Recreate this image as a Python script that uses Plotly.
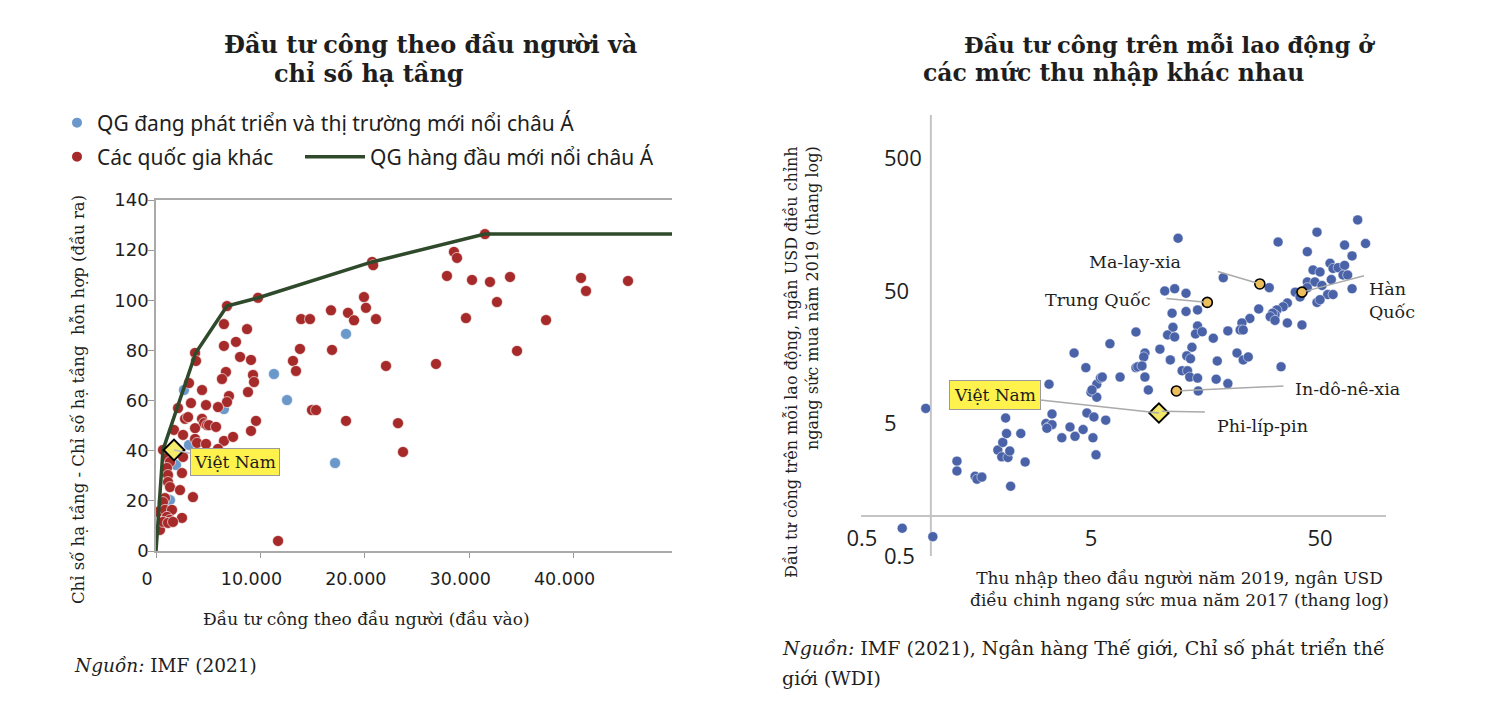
import math
import plotly.graph_objects as go

# The page body adds an 8px margin, so the figure is made 8px smaller and
# every layout position below is given in window pixels minus that offset.
OFF = 8
W, H = 1500 - OFF, 714 - OFF


def px(x):
    return (x - OFF) / W


def py(y):
    return 1 - (y - OFF) / H


# ---------------- Left chart data ----------------
blue_x = [18200, 11300, 12550, 2680, 6510, 3160, 1920, 17150, 1340, 960]
blue_y = [86.6, 70.6, 60.2, 64.2, 56.6, 42.3, 34.3, 35.1, 20.3, 15.2]

red_x = [20700, 20800, 9770, 6800, 6510, 8720, 6510, 7660, 8050, 9100,
         3740, 3830, 6700, 6320, 9290, 9390, 8810, 6990, 6800, 3160,
         4410, 3350, 4790, 2110, 5940, 2780, 3070, 4410, 4600, 4890,
         5080, 5750, 3740, 9580, 9100, 1720, 2590, 3740, 3930, 4790,
         6510, 7380, 5940, 670, 1050, 1340, 2590, 2490, 1050, 1150,
         1150, 1340, 2300, 3540, 860, 670, 190, 860, 1530, 1050,
         1340, 2490, 380, 670, 1150, 1630, 11690, 13900, 14750, 16760,
         18390, 18970, 19920, 20110, 21070, 13790, 16860, 13120, 13410, 22030,
         26820, 27870, 28540, 28830, 31510, 30270, 31990, 33910, 32660, 29690,
         34580, 37360, 40710, 41190, 45210, 14940, 15330, 18200, 23180, 23660]
red_y = [115.3, 114.0, 101.0, 97.7, 90.5, 88.5, 81.8, 83.4, 77.4, 76.2,
         79.0, 75.8, 71.4, 68.6, 70.2, 67.4, 63.4, 61.8, 59.4, 67.0,
         64.2, 59.0, 58.2, 57.0, 57.4, 52.7, 53.4, 52.7, 51.0, 50.2,
         50.2, 49.5, 49.0, 51.9, 47.9, 48.3, 46.3, 44.7, 43.1, 42.7,
         43.9, 45.5, 40.7, 40.3, 37.1, 35.5, 37.5, 31.1, 33.1, 30.3,
         27.5, 25.5, 24.3, 21.5, 21.1, 19.5, 15.6, 16.4, 16.4, 13.6,
         12.4, 13.2, 8.4, 11.6, 11.2, 11.6, 4.0, 92.5, 92.5, 96.0,
         95.0, 92.0, 101.3, 97.0, 92.5, 80.6, 80.2, 75.8, 71.8, 73.8,
         74.6, 109.7, 119.3, 116.9, 126.4, 108.1, 107.3, 109.3, 99.3, 92.9,
         79.8, 92.1, 108.9, 103.7, 107.7, 56.2, 56.2, 51.9, 51.0, 39.5]

frontier_x = [0, 670, 3800, 6800, 9800, 20700, 31500, 49500]
frontier_y = [0, 40.3, 79.0, 97.7, 101.0, 115.3, 126.4, 126.4]

vn_left_x = [1724]
vn_left_y = [40.3]

left_xticks = [0, 10000, 20000, 30000, 40000]
left_xticktext = ["0", "10.000", "20.000", "30.000", "40.000"]
left_yticks = [0, 20, 40, 60, 80, 100, 120, 140]

# ---------------- Right chart data ----------------
inc = [0.75, 1.02, 0.95, 1.30, 1.30, 1.56, 1.59, 1.67, 2.23, 1.96,
       2.04, 2.17, 2.21, 2.06, 2.14, 2.12, 2.47, 2.58, 3.18, 3.25,
       3.38, 3.21, 3.38, 3.28, 3.73, 4.05, 4.26, 4.62, 4.8, 5.1,
       5.15, 5.26, 5.8, 4.22, 4.75, 5.0, 5.3, 5.3, 5.5, 6.05,
       6.7, 7.86, 7.86, 8.0, 12, 32.8, 48.5, 73, 44, 64,
       79, 69, 10.5, 11.6, 13, 18.9, 30, 46.6, 50, 55.3,
       57, 60, 64, 56, 63, 66, 44, 47.5, 44, 39,
       51, 54, 57, 69, 48.5, 50, 36, 34.5, 32.4, 31.8,
       31, 30.3, 31.8, 27, 36, 41.7, 24.7, 22.8, 22.4, 23.1,
       19.8, 17.1, 11.3, 13, 14.6, 11.4, 10.8, 11.6, 14.6, 14.3,
       15.3, 10, 8.6, 8.5, 13.8, 13.1, 13.6, 11.1, 17.8, 21.7,
       23.1, 24.3, 33.8, 8.35, 8.6, 12.5, 13.2, 13.5, 14.6, 17.6,
       19.8, 8.9, 14.7, 5.6, 5.05, 40.9]
inv = [0.81, 0.70, 6.5, 2.6, 2.19, 2.0, 1.9, 1.97, 1.68, 3.15,
       2.8, 2.77, 3.1, 3.6, 4.2, 5.5, 4.2, 2.56, 5.0, 4.7,
       4.9, 4.6, 5.9, 9.9, 3.9, 4.7, 4.0, 4.5, 6.0, 3.9,
       5.6, 2.9, 5.3, 17, 13.2, 8.6, 7.9, 9.9, 11, 20,
       11.2, 24.5, 13.2, 13.4, 125, 117, 139, 172, 99, 111,
       114, 92, 50, 52, 48, 63, 53, 72, 69.6, 80.9,
       74, 75, 78, 61, 66, 66, 58.5, 58.5, 53, 49,
       55, 47, 47, 52, 41, 43, 40.6, 38, 36, 33,
       34, 32, 30, 36.6, 28.7, 27.7, 31, 28.7, 25.4, 25.4,
       25, 22, 34, 35, 36, 26.6, 23.3, 22.5, 27.2, 23.7,
       24.6, 18.2, 17, 15.9, 18.8, 16.2, 15.4, 15.1, 14.8, 17,
       15.1, 15.9, 13.4, 13.6, 11.2, 12.5, 12.5, 11.2, 11, 10.8,
       10, 8.95, 8.8, 11.2, 8.95, 45]

hl_names = ["Ma-lay-xia", "Trung Quốc", "Hàn Quốc", "In-dô-nê-xia", "Phi-líp-pin"]
hl_inc = [27.3, 16.1, 41.7, 11.8, 9.8]
hl_inv = [56.5, 41.0, 49.0, 8.8, 6.2]

vn_right_x = [9.9]
vn_right_y = [6.0]

log_ticks = [0.5, 5, 50, 500]
log_ticktext = ["0.5", "5", "50", "500"]

# ---------------- Styles ----------------
TXT = "#1e1e1e"
SERIF = "DejaVu Serif"
SANS = "DejaVu Sans"
RED = "#A62A2A"
BLUE = "#6A98CA"
GREEN = "#2F4A2A"
NAVY = "#4A63A8"

fig = go.Figure()

# Left chart traces
fig.add_trace(go.Scatter(
    x=blue_x, y=blue_y, mode="markers", name="QG đang phát triển và thị trường mới nổi châu Á",
    marker=dict(color=BLUE, size=11, line=dict(color="white", width=0.6)),
    xaxis="x", yaxis="y", legend="legend"))
fig.add_trace(go.Scatter(
    x=red_x, y=red_y, mode="markers", name="Các quốc gia khác",
    marker=dict(color=RED, size=11, line=dict(color="white", width=0.6)),
    xaxis="x", yaxis="y", legend="legend2"))
fig.add_trace(go.Scatter(
    x=frontier_x, y=frontier_y, mode="lines", name="QG hàng đầu mới nổi châu Á",
    line=dict(color=GREEN, width=3.5), xaxis="x", yaxis="y", legend="legend3"))
fig.add_trace(go.Scatter(
    x=vn_left_x, y=vn_left_y, mode="markers", name="Việt Nam", showlegend=False,
    marker=dict(symbol="diamond", color="#F3EB6C", size=16, line=dict(color="black", width=2)),
    xaxis="x", yaxis="y"))

# Right chart traces
fig.add_trace(go.Scatter(
    x=inc, y=inv, mode="markers", showlegend=False, name="Quốc gia",
    marker=dict(color=NAVY, size=10, line=dict(color="white", width=0.5)),
    xaxis="x2", yaxis="y2"))
fig.add_trace(go.Scatter(
    x=hl_inc, y=hl_inv, mode="markers", showlegend=False, text=hl_names,
    marker=dict(color="#EDBF5C", size=10, line=dict(color="black", width=1.6)),
    xaxis="x2", yaxis="y2"))
fig.add_trace(go.Scatter(
    x=vn_right_x, y=vn_right_y, mode="markers", showlegend=False, name="Việt Nam",
    marker=dict(symbol="diamond", color="#F2E66A", size=15, line=dict(color="black", width=1.8)),
    xaxis="x2", yaxis="y2"))

ann = []


def text(x, y, s, size, family=SERIF, xanchor="left", yanchor="middle", **kw):
    ann.append(dict(x=px(x), y=py(y), xref="paper", yref="paper", text=s, showarrow=False,
                    xanchor=xanchor, yanchor=yanchor,
                    font=dict(family=family, size=size, color=TXT), **kw))


# Titles
text(222, 45, "<b>Đầu tư công theo đầu người và</b>", 24)
text(272, 73, "<b>chỉ số hạ tầng</b>", 24)
text(962, 45, "<b>Đầu tư công trên mỗi lao động ở</b>", 22.5)
text(921, 73, "<b>các mức thu nhập khác nhau</b>", 23.5)

# Left axis titles and source
text(78, 400, "Chỉ số hạ tầng - Chỉ số hạ tầng  hỗn hợp (đầu ra)", 16.5, xanchor="center", textangle=-90)
text(366, 619, "Đầu tư công theo đầu người (đầu vào)", 17, xanchor="center")
text(72, 665, "<i>Nguồn:</i> IMF (2021)", 18.5)

# Right axis titles and source
text(802, 362, "Đầu tư công trên mỗi lao động, ngân USD điều chỉnh<br>ngang sức mua năm 2019 (thang log)",
     16, xanchor="center", textangle=-90, align="right")
text(1179, 589, "Thu nhập theo đầu người năm 2019, ngân USD<br>điều chinh ngang sức mua năm 2017 (thang log)",
     17, xanchor="center", align="center")
text(780, 648, "<i>Nguồn:</i> IMF (2021), Ngân hàng Thế giới, Chỉ số phát triển thế", 19)
text(780, 678, "giới (WDI)", 19)

# Right chart labels
text(1135, 262, "Ma-lay-xia", 17.5, xanchor="center")
text(1097, 300, "Trung Quốc", 17.5, xanchor="center")
text(1367, 300, "Hàn<br>Quốc", 17.5, align="left")
text(1293, 389, "In-dô-nê-xia", 17.5)
text(1215, 426, "Phi-líp-pin", 17.5)

# Leader lines (arrow-only annotations to the highlighted points; log axes use log10 positions)
leader_offsets = [(-44, -13), (-43, -4), (64, -17), (109, -5), (49, 1)]
for (lx, ly), (dx, dy) in zip(zip(hl_inc, hl_inv), leader_offsets):
    ann.append(dict(x=math.log10(lx), y=math.log10(ly), xref="x2", yref="y2", text=" ",
                    showarrow=True, arrowhead=0, arrowwidth=1.5, arrowcolor="#aaaaaa",
                    ax=dx, ay=dy, standoff=4, font=dict(size=2)))

# Viet Nam labels
ann.append(dict(x=vn_left_x[0], y=vn_left_y[0], xref="x", yref="y", text="Việt Nam",
                showarrow=True, arrowhead=0, arrowwidth=1.5, arrowcolor="#bbbbbb", ax=61, ay=12,
                bgcolor="#FFF24D", bordercolor="#9a9a9a", borderwidth=1, borderpad=3,
                font=dict(family=SERIF, size=17, color=TXT)))
ann.append(dict(x=math.log10(vn_right_x[0]), y=math.log10(vn_right_y[0]), xref="x2", yref="y2",
                text="Việt Nam", showarrow=True, arrowhead=0, arrowwidth=1.5, arrowcolor="#aaaaaa",
                ax=-164, ay=-18, bgcolor="#FFF24D", bordercolor="#9a9a9a", borderwidth=1,
                borderpad=4, font=dict(family=SERIF, size=17, color=TXT)))

axis_common = dict(showgrid=False, zeroline=False)
legend_font = dict(family="Noto Sans", size=21, color=TXT)

fig.update_layout(
    width=W, height=H, autosize=False,
    margin=dict(l=0, r=0, t=0, b=0, pad=0, autoexpand=False),
    paper_bgcolor="white", plot_bgcolor="white",
    annotations=ann,
    xaxis=dict(domain=[px(156), px(672)], range=[0, 49425], tickvals=left_xticks,
               ticktext=left_xticktext, ticks="outside", ticklen=5, tickcolor="#999",
               showline=True, linecolor="#aaa", linewidth=1.5, mirror=True,
               tickfont=dict(family=SANS, size=17.5, color=TXT), ticklabelstandoff=6,
               ticklabelshift=-9, anchor="y", **axis_common),
    yaxis=dict(domain=[py(551), py(200)], range=[0, 140], tickvals=left_yticks,
               ticks="outside", ticklen=6, tickcolor="#999",
               showline=True, linecolor="#aaa", linewidth=1.5, ticklabelstandoff=-4,
               tickfont=dict(family=SANS, size=18, color=TXT), anchor="x", **axis_common),
    xaxis2=dict(type="log", domain=[px(861), px(1386)], range=[-0.305, 1.987],
                tickvals=log_ticks[:3], ticktext=log_ticktext[:3], ticks="",
                showline=True, linecolor="#c4c4c4", linewidth=2,
                anchor="free", position=py(516), ticklabelstandoff=3,
                tickfont=dict(family="Open Sans", size=22, color=TXT), **axis_common),
    yaxis2=dict(type="log", domain=[py(558), py(115)], range=[-0.316, 3.027],
                tickvals=log_ticks, ticktext=log_ticktext, ticks="",
                showline=False, anchor="free", position=px(880),
                ticklabelposition="inside", ticklabeloverflow="allow",
                tickfont=dict(family="Open Sans", size=22, color=TXT), **axis_common),
    shapes=[dict(type="line", xref="x2", yref="paper", x0=1, x1=1, y0=py(556), y1=py(115),
                 line=dict(color="#c4c4c4", width=2), layer="below")],
    legend=dict(x=px(57), y=py(123), xanchor="left", yanchor="middle", itemsizing="constant",
                font=legend_font, bgcolor="rgba(0,0,0,0)"),
    legend2=dict(x=px(57), y=py(157), xanchor="left", yanchor="middle", itemsizing="constant",
                 font=legend_font, bgcolor="rgba(0,0,0,0)"),
    legend3=dict(x=px(300), y=py(157), xanchor="left", yanchor="middle", itemwidth=60,
                 font=legend_font, bgcolor="rgba(0,0,0,0)"),
)

fig.write_html("out.html")
